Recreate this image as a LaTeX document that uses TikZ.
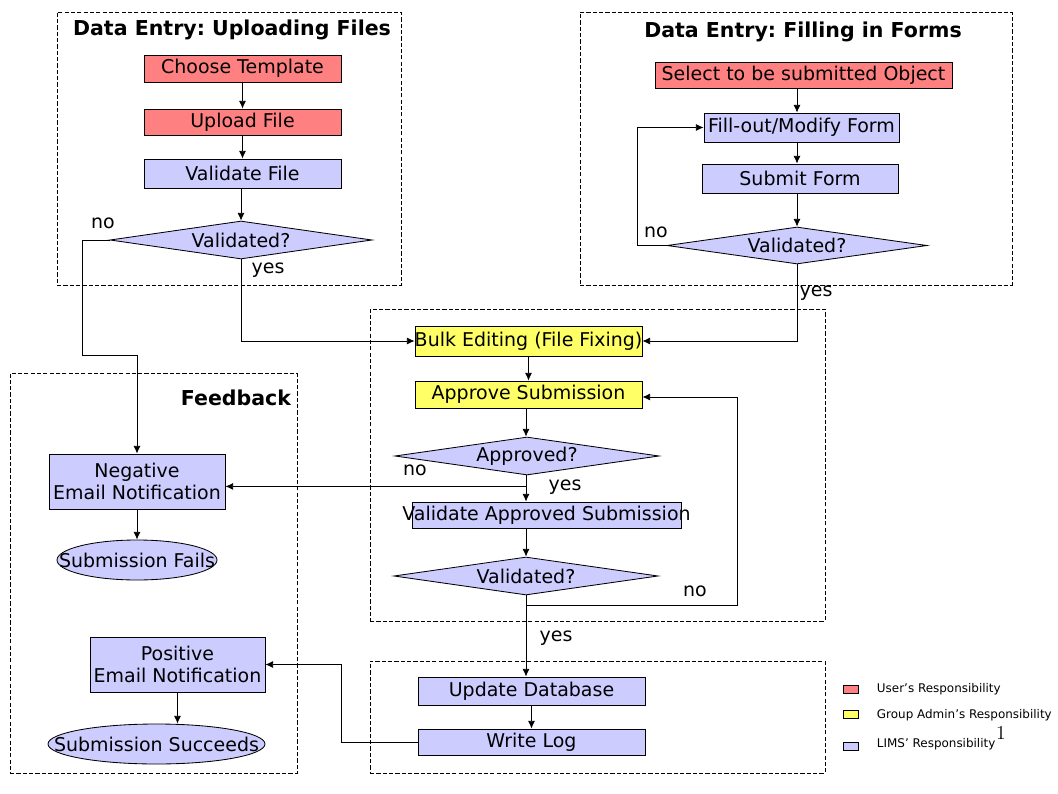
\documentclass[tikz,border=0pt]{standalone}
\usepackage{fontspec}
\usepackage{xcolor}
\usepackage{tikz}
\usetikzlibrary{arrows.meta,calc}
\usetikzlibrary{shapes.geometric}

\newfontfamily\dejavu{DejaVu Sans}
\newcommand{\upx}{0.025cm}

\definecolor{userred}{RGB}{255,128,128}
\definecolor{adminyellow}{RGB}{255,255,102}
\definecolor{limsblue}{RGB}{204,204,255}

\tikzset{
  txt/.style = {font=\dejavu\fontsize{13.5}{16}\selectfont},
  sz/.style 2 args = {minimum width=#1*\upx, minimum height=#2*\upx},
  box/.style = {txt, draw, line width=0.6pt, inner sep=0pt, align=center},
  user/.style = {box, fill=userred},
  admin/.style = {box, fill=adminyellow},
  lims/.style = {box, fill=limsblue},
  decide/.style = {lims, diamond, aspect=6},
  outcome/.style = {lims, ellipse},
  group/.style = {draw, dash pattern=on 3pt off 1.5pt, line width=0.5pt, inner sep=0pt},
  grouptitle/.style = {font=\dejavu\bfseries\fontsize{14.6}{17}\selectfont\frenchspacing},
  arr/.style = {-{Latex[length=5.5pt,width=5pt]}, line width=0.6pt},
  legtext/.style = {font=\dejavu\fontsize{8.5}{10}\selectfont, anchor=west}
}

\begin{document}
\begin{tikzpicture}[x=0.025cm, y=-0.025cm]

\useasboundingbox (0,0) rectangle (1058,794);

% dashed groups
\node[group, sz={344}{273}] (upframe) at (229,148.5) {};
\node[group, sz={432}{273}] (formframe) at (796,148.5) {};
\node[group, sz={455}{312}] (reviewframe) at (597.5,465) {};
\node[group, sz={455}{112}] (dbframe) at (597.5,717) {};
\node[group, sz={287}{400}] (feedframe) at (153.5,573) {};

\node[grouptitle] (uptitle) at (232,30) {Data Entry: Uploading Files};
\node[grouptitle] (formtitle) at (803,32) {Data Entry: Filling in Forms};
\node[grouptitle] (feedtitle) at (236,398) {Feedback};

% uploading files
\node[user, sz={197}{27}] (choose) at (242.5,68.5) {Choose Template};
\node[user, sz={197}{26}] (upload) at (242.5,122) {Upload File};
\node[lims, sz={197}{29}] (valfile) at (242.5,173.5) {Validate File};
\node[decide, sz={262}{38}] (valup) at (241,240) {Validated?};

% filling in forms
\node[user, sz={297}{26}] (select) at (803.5,75) {Select to be submitted Object};
\node[lims, sz={195}{29}] (fill) at (801.5,127.5) {Fill-out/Modify Form};
\node[lims, sz={196}{29}] (submit) at (800,178.5) {Submit Form};
\node[decide, sz={260}{37}] (valform) at (797,245.5) {Validated?};

% review
\node[admin, sz={227}{30}] (bulk) at (528.5,341) {\makebox[0pt]{Bulk Editing (File Fixing)}};
\node[admin, sz={227}{27}] (approve) at (528.5,394.5) {Approve Submission};
\node[decide, sz={264}{38}] (approved) at (527,456) {Approved?};
\node[lims, sz={269}{26}] (valapp) at (546.5,515) {\makebox[0pt]{Validate Approved Submission}};
\node[decide, sz={264}{38}] (valdb) at (526,576) {Validated?};

% database
\node[lims, sz={227}{28}] (update) at (531.5,691) {Update Database};
\node[lims, sz={227}{26}] (writelog) at (531.5,742) {Write Log};

% feedback
\node[lims, sz={176}{55}] (negmail) at (137,481.5) {Negative\\Email Notification};
\node[outcome, sz={160}{40}] (fails) at (137,560) {\makebox[0pt]{Submission Fails}};
\node[lims, sz={175}{55}] (posmail) at (177.5,664.5) {Positive\\Email Notification};
\node[outcome, sz={217}{40}] (succeeds) at (156.5,744) {\makebox[0pt]{Submission Succeeds}};

% labels
\node[txt] (noup) at (103,223) {no};
\node[txt] (yesup) at (268,270) {yes};
\node[txt] (noform) at (656,232) {no};
\node[txt] (yesform) at (816,293) {yes};
\node[txt] (noapp) at (415,470) {no};
\node[txt] (yesapp) at (565,487) {yes};
\node[txt] (nodb) at (695,591) {no};
\node[txt] (yesdb) at (556,638) {yes};

% arrows
\draw[arr] (choose) -- (upload);
\draw[arr] (upload) -- (valfile);
\draw[arr] (valfile.south -| valup) -- (valup.north);
\draw[arr] (valup.west) -- ++(-27,0) |- ($(negmail.north)+(0,-98)$) -- (negmail.north);
\draw[arr] (valup.south) |- (bulk.west);

\draw[arr] (select.south -| valform) -- (fill.north -| valform);
\draw[arr] (fill.south -| valform) -- (submit.north -| valform);
\draw[arr] (submit.south -| valform) -- (valform.north);
\draw[arr] (valform.west) -- ++(-29,0) |- (fill.west);
\draw[arr] (valform.south) |- (bulk.east);

\draw[arr] (bulk) -- (approve);
\draw[arr] (approve.south -| valdb) -- (approved.north -| valdb);
\draw[arr] (approved.south -| valdb) -- (valapp.north -| valdb);
\coordinate (appno) at ($(approved.south -| valdb)+(0,11)$);
\draw[arr] (appno) -- (appno -| negmail.east);
\draw[arr] (valapp.south -| valdb) -- (valdb.north);
\draw[arr] (valdb.south) -- (update.north -| valdb);
\coordinate (dbno) at ($(valdb.south)+(0,10)$);
\draw[arr] (dbno) -| ($(approve.east)+(95,2.5)$) -- ($(approve.east)+(0,2.5)$);

\draw[arr] (update) -- (writelog);
\draw[arr] (writelog.west) -- ++(-76,0) |- (posmail.east);

\draw[arr] (negmail) -- (fails);
\draw[arr] (posmail.south) -- (posmail.south |- succeeds.north);

% legend
\node[draw, fill=userred, inner sep=0pt, sz={15}{8}] (keyuser) at (851,689) {};
\node[draw, fill=adminyellow, inner sep=0pt, sz={15}{8}] (keyadmin) at (851,714) {};
\node[draw, fill=limsblue, inner sep=0pt, sz={15}{8}] (keylims) at (851,746) {};
\node[legtext] (txtuser) at (872,689) {User’s Responsibility};
\node[legtext] (txtadmin) at (872,715) {Group Admin’s Responsibility};
\node[legtext] (txtlims) at (872,744) {LIMS’ Responsibility};

\node[font=\fontsize{14}{16}\selectfont, inner sep=0pt] (pagenum) at (1001,733) {1};

\end{tikzpicture}
\end{document}
